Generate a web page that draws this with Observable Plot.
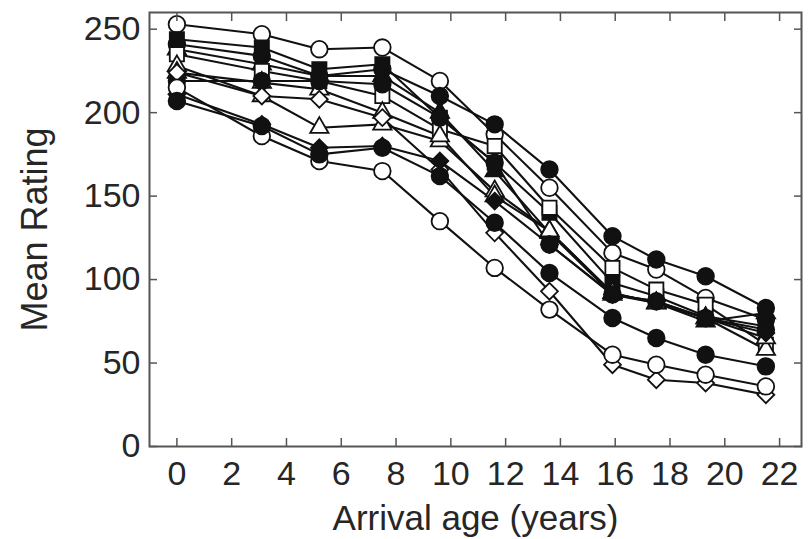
<!DOCTYPE html>
<html><head><meta charset="utf-8">
<script src="https://cdn.jsdelivr.net/npm/d3@7"></script>
<script src="https://cdn.jsdelivr.net/npm/@observablehq/plot@0.6"></script>
<style>body{margin:0;background:#fff}</style>
</head><body><div id="chart"></div>
<script>
// Arrival ages (x) at which every group was measured
const ages = [0, 3.1, 5.2, 7.5, 9.6, 11.6, 13.6, 15.9, 17.5, 19.3, 21.5];

// Mean ratings per group
const openCircleTop     = [253, 247, 238, 239, 219, 187, 155, 116, 106, 89, 76];
const filledCircleTop   = [241, 234, 222, 226, 210, 193, 166, 126, 112, 102, 83];
const filledSquare      = [244, 239, 226, 229, 197, 170, 140, 98, 90, 78, 72];
const filledTriangle    = [238, 229, 222, 222, 200, 165, 128, 91, 86, 75, 80];
const openSquare        = [235, 225, 219, 210, 190, 180, 143, 107, 94, 85, 61];
const openTriangle      = [228, 210, 191, 193, 183, 153, 129, 92, 86, 77, 58];
const openTriangle2     = [224, 218, 214, 200, 186, 150, 129, 92, 86, 77, 65];
const filledCircleMid   = [219, 219, 219, 217, 197, 170, 121, 91, 87, 77, 70];
const openDiamond       = [224, 210, 208, 197, 166, 128, 93, 49, 40, 38, 31];
const filledDiamond     = [211, 193, 179, 180, 171, 147, 121, 91, 87, 77, 68];
const openCircleLow     = [215, 186, 171, 165, 135, 107, 82, 55, 49, 43, 36];
const filledCircleLow   = [207, 192, 175, 179, 162, 134, 104, 77, 65, 55, 48];

const seriesValues  = [openCircleTop, filledCircleTop, filledSquare, filledTriangle, openSquare, openTriangle, openTriangle2, filledCircleMid, openDiamond, filledDiamond, openCircleLow, filledCircleLow];
const seriesSymbols = ["circle", "circle", "square", "triangle", "square", "triangle", "triangle", "circle", "diamond2", "diamond2", "circle", "circle"];
const seriesFilled  = [false, true, true, true, false, false, false, true, false, true, false, true];

const xTicks = [0, 2, 4, 6, 8, 10, 12, 14, 16, 18, 20, 22];
const yTicks = [0, 50, 100, 150, 200, 250];

const rows = [];
seriesValues.forEach((vals, s) => {
  vals.forEach((v, i) => rows.push({series: s, age: ages[i], rating: v}));
});

const font = "'Liberation Sans', Arial, Helvetica, sans-serif";
const ink = "#262626";
const frameInk = "#555";
const symbolRadius = {circle: 8.3, square: 8, triangle: 6.8, diamond2: 7.6};

const dotMarks = seriesValues.map((_, s) =>
  Plot.dot(rows.filter(d => d.series === s), {
    x: "age", y: "rating", symbol: seriesSymbols[s], r: symbolRadius[seriesSymbols[s]],
    fill: seriesFilled[s] ? "#111" : "#fff", stroke: "#111", strokeWidth: 1.8
  })
);

const chart = Plot.plot({
  width: 808, height: 539,
  marginLeft: 149, marginRight: 7, marginTop: 12, marginBottom: 93,
  style: {fontFamily: font, fontSize: "34px", color: ink, background: "#fff"},
  x: {domain: [-1, 22.8], ticks: xTicks},
  y: {domain: [0, 260], ticks: yTicks},
  marks: [
    Plot.line(rows, {x: "age", y: "rating", z: "series", stroke: "#111", strokeWidth: 2.1}),
    ...dotMarks,
    Plot.frame({stroke: frameInk, strokeWidth: 2}),
    Plot.axisX(xTicks, {anchor: "bottom", tickSize: -8, tickPadding: 22, stroke: frameInk, strokeWidth: 1.5, fill: ink, label: null}),
    Plot.axisX(xTicks, {anchor: "top", tickSize: -8, tickFormat: () => "", stroke: frameInk, strokeWidth: 1.5, label: null}),
    Plot.axisY(yTicks, {anchor: "left", tickSize: -8, tickPadding: 17, stroke: frameInk, strokeWidth: 1.5, fill: ink, label: null}),
    Plot.axisY(yTicks, {anchor: "right", tickSize: -8, tickFormat: () => "", stroke: frameInk, strokeWidth: 1.5, label: null}),
    Plot.text(["Arrival age (years)"], {frameAnchor: "bottom", dy: 72, lineAnchor: "middle", textAnchor: "middle", fill: ink, fontSize: 35}),
    Plot.text(["Mean Rating"], {frameAnchor: "left", dx: -114, rotate: -90, lineAnchor: "middle", textAnchor: "middle", fill: ink, fontSize: 36})
  ]
});
document.getElementById("chart").append(chart);
</script>
</body></html>
